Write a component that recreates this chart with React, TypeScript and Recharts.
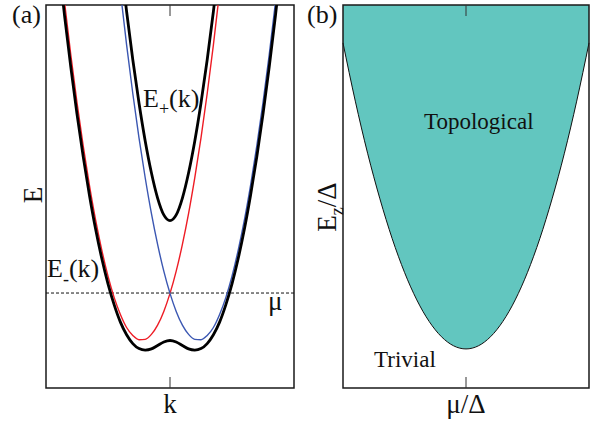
import { ComposedChart, Line, Area, XAxis, YAxis, ReferenceLine, ReferenceArea } from 'recharts'

// panel (a): dispersion, k from -0.9 to 0.9
const kGrid = [
  -0.9, -0.85, -0.8, -0.75, -0.7, -0.65, -0.6, -0.55, -0.5, -0.45, -0.4, -0.35, -0.3, -0.25, -0.2, -0.15, -0.1, -0.05,
  0, 0.05, 0.1, 0.15, 0.2, 0.25, 0.3, 0.35, 0.4, 0.45, 0.5, 0.55, 0.6, 0.65, 0.7, 0.75, 0.8, 0.85, 0.9,
]
const redBand = [
  11.54, 10.06, 8.7, 7.45, 6.32, 5.3, 4.39, 3.6, 2.92, 2.36, 1.92, 1.58, 1.37, 1.26, 1.27, 1.4, 1.64, 2.0,
  2.47, 3.05, 3.75, 4.56, 5.49, 6.53, 7.69, 8.96, 10.35, 11.85, null, null, null, null, null, null, null, null, null,
]
const blueBand = [...redBand].reverse()
const upperBand = [
  null, null, null, null, null, null, null, null, null, 12.72, 11.21, 9.83, 8.57, 7.44, 6.45, 5.62, 4.96, 4.52,
  4.37, 4.52, 4.96, 5.62, 6.45, 7.44, 8.57, 9.83, 11.21, 12.72, null, null, null, null, null, null, null, null, null,
]
const lowerBand = [
  11.17, 9.71, 8.38, 7.15, 6.04, 5.04, 4.15, 3.38, 2.72, 2.17, 1.72, 1.39, 1.16, 1.03, 0.99, 1.02, 1.11, 1.2,
  1.24, 1.2, 1.11, 1.02, 0.99, 1.03, 1.16, 1.39, 1.72, 2.17, 2.72, 3.38, 4.15, 5.04, 6.04, 7.15, 8.38, 9.71, 11.17,
]
const chemPotential = 2.48

// panel (b): phase boundary
const muGrid = [-1, -0.9, -0.8, -0.7, -0.6, -0.5, -0.4, -0.3, -0.2, -0.1, 0, 0.1, 0.2, 0.3, 0.4, 0.5, 0.6, 0.7, 0.8, 0.9, 1]
const ezBoundary = [9.01, 7.49, 6.13, 4.94, 3.9, 3.02, 2.3, 1.74, 1.34, 1.1, 1.02, 1.1, 1.34, 1.74, 2.3, 3.02, 3.9, 4.94, 6.13, 7.49, 9.01]

const bandRows = kGrid.map((k, i) => ({ k, red: redBand[i], blue: blueBand[i], up: upperBand[i], low: lowerBand[i] }))
const phaseRows = muGrid.map((mu, i) => ({ mu, ez: ezBoundary[i] }))

const serif = '"Liberation Serif", "Times New Roman", serif'
const frame = '#1a1a1a'
const noLabel = () => <g />

function Panel({ data, xKey, right, children }: { data: any[]; xKey: string; right: number; children: any }) {
  return (
    <ComposedChart width={300} height={425} data={data} margin={{ top: 5, right, bottom: 37, left: 46 }}>
      <XAxis dataKey={xKey} type="number" domain={[-1, 1]} ticks={[0]} mirror tick={noLabel} tickSize={11} tickLine={{ stroke: '#333' }} axisLine={false} />
      <YAxis type="number" domain={[0, 10]} allowDataOverflow hide />
      {children}
      <ReferenceArea x1={-1} x2={1} y1={0} y2={10} fill="none" stroke={frame} strokeWidth={1.5} />
    </ComposedChart>
  )
}

export default function App() {
  return (
    <div style={{ position: 'absolute', left: 0, top: 0, width: 590, height: 425, background: '#fff', overflow: 'hidden' }}>
      <div style={{ position: 'absolute', left: 0, top: 0 }}>
        <Panel data={bandRows} xKey="k" right={6}>
          <ReferenceLine y={chemPotential} stroke="#111" strokeDasharray="3 2" strokeWidth={1} />
          <Line type="monotone" dataKey="red" stroke="#ee1c25" strokeWidth={1.4} dot={false} isAnimationActive={false} />
          <Line type="monotone" dataKey="blue" stroke="#3b57b2" strokeWidth={1.4} dot={false} isAnimationActive={false} />
          <Line type="monotone" dataKey="up" stroke="#000" strokeWidth={2.8} dot={false} isAnimationActive={false} />
          <Line type="monotone" dataKey="low" stroke="#000" strokeWidth={2.8} dot={false} isAnimationActive={false} />
        </Panel>
      </div>
      <div style={{ position: 'absolute', left: 297, top: 0 }}>
        <Panel data={phaseRows} xKey="mu" right={8}>
          <Area type="monotone" dataKey="ez" baseValue={10} fill="#62c6bf" fillOpacity={1} stroke="#111" strokeWidth={1} isAnimationActive={false} />
        </Panel>
      </div>
      <svg width={590} height={425} style={{ position: 'absolute', left: 0, top: 0, pointerEvents: 'none' }} fontFamily={serif} fill="#111">
        {/* inward centre ticks on the top frame edges */}
        <line x1={170} y1={5} x2={170} y2={16} stroke="#333" />
        <line x1={466} y1={5} x2={466} y2={16} stroke="#333" />
        <text x={12} y={23} fontSize={26}>(a)</text>
        <text x={307} y={23} fontSize={26}>(b)</text>
        <text x={42} y={195} fontSize={27} textAnchor="middle" transform="rotate(-90 42 195)">E</text>
        <text x={170} y={413} fontSize={27} textAnchor="middle">k</text>
        <text x={143} y={107} fontSize={26}>E<tspan fontSize={18} dy={8}>+</tspan><tspan dy={-8}>(k)</tspan></text>
        <text x={47} y={277} fontSize={26}>E<tspan fontSize={18} dy={8}>-</tspan><tspan dy={-8}>(k)</tspan></text>
        <text x={268} y={310} fontSize={27}>μ</text>
        <text x={466} y={413} fontSize={27} textAnchor="middle">μ/Δ</text>
        <text x={336} y={207} fontSize={27} textAnchor="middle" transform="rotate(-90 336 207)">E<tspan fontSize={18} dy={7}>z</tspan><tspan dy={-7}>/Δ</tspan></text>
        <text x={424} y={129} fontSize={23}>Topological</text>
        <text x={374} y={367} fontSize={23}>Trivial</text>
      </svg>
    </div>
  )
}
